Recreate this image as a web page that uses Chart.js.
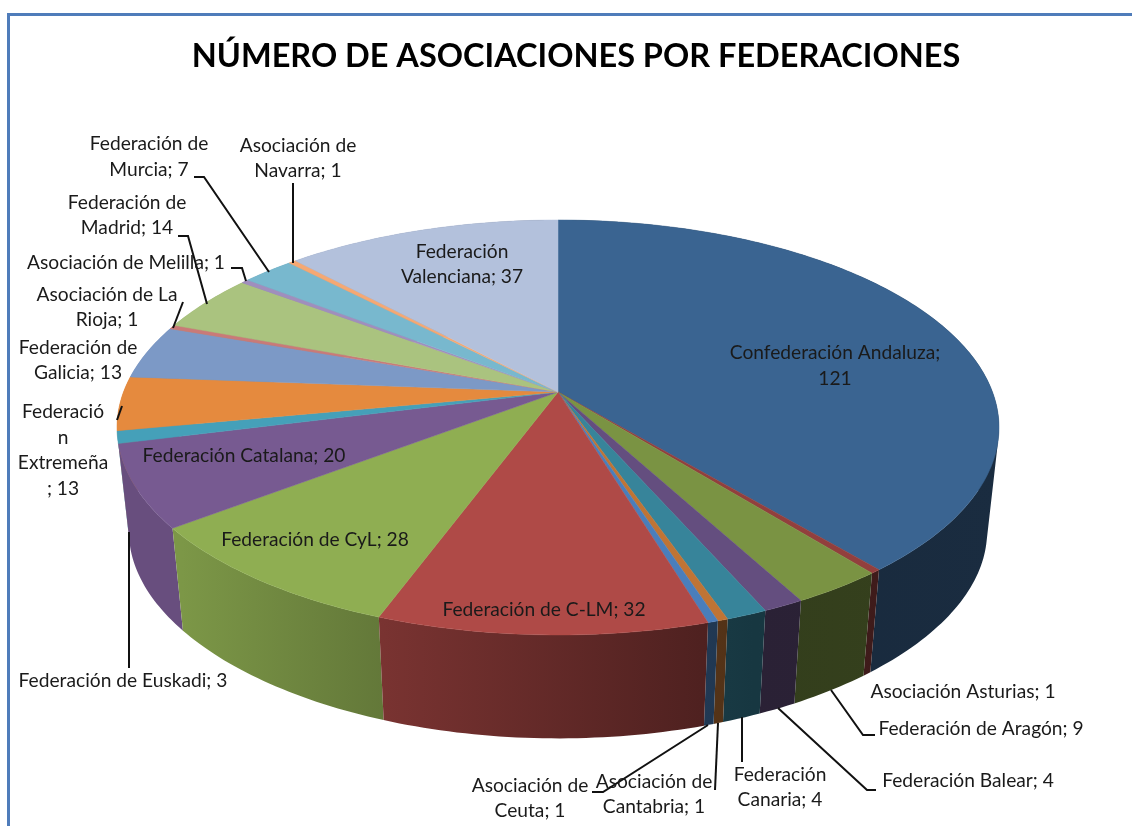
<!DOCTYPE html>
<html lang="es">
<head>
<meta charset="utf-8">
<title>Número de asociaciones por federaciones</title>
<script src="https://cdn.jsdelivr.net/npm/chart.js@4/dist/chart.umd.min.js"></script>
<style>html,body{margin:0;padding:0;background:#fff;overflow:hidden}canvas{display:block}</style>
</head>
<body>
<canvas id="c" width="1132" height="826"></canvas>
<script>
const categories = ["Confederación Andaluza","Asociación Asturias","Federación de Aragón","Federación Balear","Federación Canaria","Asociación de Cantabria","Asociación de Ceuta","Federación de C-LM","Federación de CyL","Federación Catalana","Federación de Euskadi","Federación Extremeña","Federación de Galicia","Asociación de La Rioja","Federación de Madrid","Asociación de Melilla","Federación de Murcia","Asociación de Navarra","Federación Valenciana"];
const values = [121,1,9,4,4,1,1,32,28,20,3,13,13,1,14,1,7,1,37];
const colors = ["#3A6491","#923F3D","#7A9343","#644E7F","#37849A","#BF7435","#4A7EBB","#AF4A47","#8FAE52","#775A91","#45A0B9","#E58A3E","#7C99C6","#C97A78","#AAC37F","#A08EBD","#78B8CE","#F5A873","#B3C1DC"];

// Text placement of the data labels: [centre x, [[line, centre y], ...]]
const labelLayout = [
  [835,[["Confederación Andaluza;",353],["121",379]]],
  [963,[["Asociación Asturias; 1",692]]],
  [981,[["Federación de Aragón; 9",729]]],
  [968,[["Federación Balear; 4",781]]],
  [780,[["Federación",775],["Canaria; 4",800]]],
  [654,[["Asociación de",782],["Cantabria; 1",807]]],
  [530,[["Asociación de",786],["Ceuta; 1",811]]],
  [544,[["Federación de C-LM; 32",610]]],
  [315,[["Federación de CyL; 28",540]]],
  [244,[["Federación Catalana; 20",456]]],
  [123,[["Federación de Euskadi; 3",681]]],
  [63,[["Federació",412],["n",438],["Extremeña",463],["; 13",489]]],
  [78,[["Federación de",348],["Galicia; 13",373]]],
  [107,[["Asociación de La",295],["Rioja; 1",320]]],
  [127,[["Federación de",203],["Madrid; 14",228]]],
  [126,[["Asociación de Melilla; 1",263]]],
  [149,[["Federación de",144],["Murcia; 7",170]]],
  [298,[["Asociación de",146],["Navarra; 1",171]]],
  [462,[["Federación",252],["Valenciana; 37",277]]]
];
// Leader-line geometry, annotation only
const leaders = [
  [[293,183],[293,263]],
  [[194,177],[204,177],[269,272]],
  [[178,236],[188,236],[207,304]],
  [[231,268],[242,268],[246,281]],
  [[183,302],[173,328]],
  [[122,406],[117,420]],
  [[129,532],[129,668]],
  [[592,792],[603,792],[708,725]],
  [[715,790],[718,723]],
  [[742,762],[742,717]],
  [[876,790],[867,790],[778,708]],
  [[875,735],[863,735],[831,690]]
];

// Perspective projection of the pie disc
const P = {x0:558, y0:392, a:434.5, b:201.4, p:0.171, s:0.973, d:105};
function topPt(ang){
  const u=Math.cos(ang), v=Math.sin(ang), w=1-P.p*v;
  return [P.x0+P.a*u/w, P.y0+P.b*v/w];
}
function botPt(ang){
  const u=Math.cos(ang), v=Math.sin(ang), w=1-P.p*v;
  return [P.x0+P.s*P.a*u/w, P.y0+P.s*P.b*v/w+P.d+(v>0?5*v*v*v:0)];
}
function arcPts(fn,a0,a1){
  const n=Math.max(2,Math.ceil(Math.abs(a1-a0)/(Math.PI/180)));
  const r=[];
  for(let i=0;i<=n;i++) r.push(fn(a0+(a1-a0)*i/n));
  return r;
}
function shade(hex,f){
  const n=parseInt(hex.slice(1),16);
  return `rgb(${Math.round((n>>16&255)*f)},${Math.round((n>>8&255)*f)},${Math.round((n&255)*f)})`;
}
function area(q){
  let s=0;
  q.forEach((p,i)=>{const r=q[(i+1)%q.length];s+=p[0]*r[1]-r[0]*p[1];});
  return s;
}
const wallStops=[[0,0.87],[0.07,0.87],[0.3,0.69],[0.66,0.45],[0.72,0.42],[1,0.44]];

const pie3d = {
  id:'pie3d',
  beforeDraw(chart){
    const c=chart.ctx;
    c.save();
    c.fillStyle='#fff';c.fillRect(0,0,1132,826);
    c.strokeStyle='#4F7CBA';c.lineWidth=3;
    c.beginPath();c.moveTo(8.5,826);c.lineTo(8.5,14.5);c.lineTo(1132,14.5);c.stroke();
    c.restore();
  },
  beforeDatasetsDraw(chart){
    const c=chart.ctx, arcs=chart.getDatasetMeta(0).data;
    c.save();
    // walls, far to near: one path of same-orientation quads, so the fold is covered without seams
    const order=arcs.map((e,i)=>i).sort((i,j)=>Math.sin((arcs[i].startAngle+arcs[i].endAngle)/2)-Math.sin((arcs[j].startAngle+arcs[j].endAngle)/2));
    order.forEach(i=>{
      const e=arcs[i], col=e.options.backgroundColor;
      const up=arcPts(topPt,e.startAngle,e.endAngle), lo=arcPts(botPt,e.startAngle,e.endAngle);
      const g=c.createLinearGradient(120,0,1000,0);
      wallStops.forEach(s=>g.addColorStop(s[0],shade(col,s[1])));
      c.fillStyle=g;
      c.beginPath();
      for(let k=0;k<up.length-1;k++){
        let q=[up[k],up[k+1],lo[k+1],lo[k]];
        if(area(q)<0) q=q.reverse();
        q.forEach((p,m)=>m?c.lineTo(p[0],p[1]):c.moveTo(p[0],p[1]));
        c.closePath();
      }
      c.fill('nonzero');
    });
    // top faces
    arcs.forEach(e=>{
      const col=e.options.backgroundColor;
      c.fillStyle=col;c.strokeStyle=col;c.lineWidth=0.5;
      c.beginPath();c.moveTo(P.x0,P.y0);
      arcPts(topPt,e.startAngle,e.endAngle).forEach(p=>c.lineTo(p[0],p[1]));
      c.closePath();c.fill();c.stroke();
    });
    // leaders
    c.strokeStyle='#111';c.lineWidth=2;c.lineJoin='miter';
    leaders.forEach(l=>{
      c.beginPath();
      l.forEach((p,k)=>k?c.lineTo(p[0],p[1]):c.moveTo(p[0],p[1]));
      c.stroke();
    });
    // labels
    c.font='19.2px Lato, Carlito, sans-serif';
    c.fillStyle='#1a1a1a';c.textAlign='center';c.textBaseline='middle';
    labelLayout.forEach(l=>l[1].forEach(t=>c.fillText(t[0],l[0],t[1])));
    c.restore();
    return false;
  }
};

new Chart(document.getElementById('c'),{
  type:'pie',
  data:{labels:categories,datasets:[{data:values,backgroundColor:colors,borderWidth:0}]},
  plugins:[pie3d],
  options:{
    responsive:false,
    animation:false,
    layout:{padding:{left:20,right:0,top:0,bottom:0}},
    plugins:{
      legend:{display:false},
      tooltip:{enabled:false},
      title:{display:true,text:"NÚMERO DE ASOCIACIONES POR FEDERACIONES",color:'#000',
        font:{family:'Lato, Carlito, sans-serif',size:32.5,weight:'bold'},
        padding:{top:37,bottom:10}}
    }
  }
});
</script>
</body>
</html>
